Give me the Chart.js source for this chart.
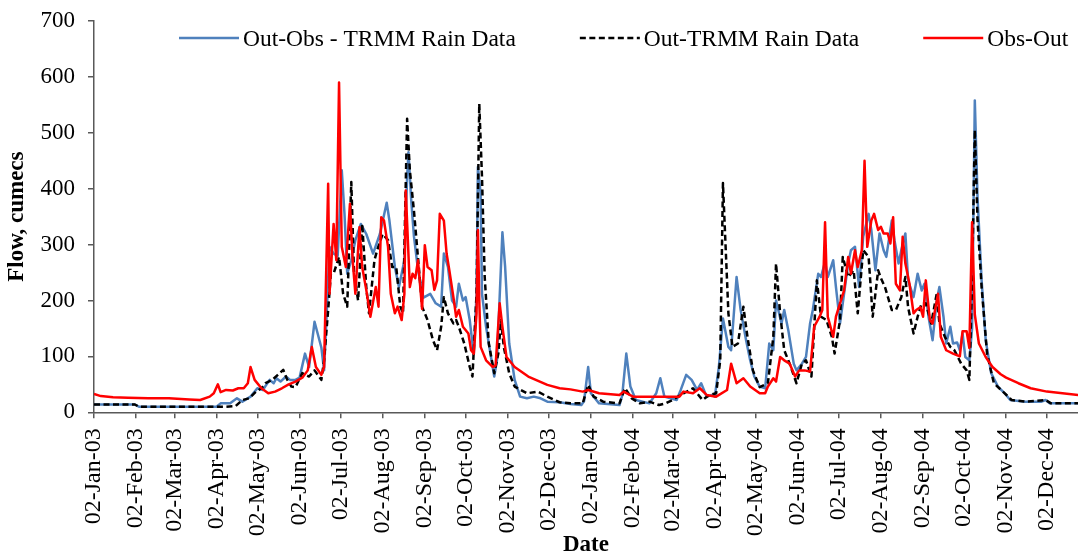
<!DOCTYPE html>
<html>
<head>
<meta charset="utf-8">
<script src="https://cdn.jsdelivr.net/npm/chart.js@4.4.0/dist/chart.umd.min.js"></script>
<style>
html,body{margin:0;padding:0;background:#fff;}
#wrap{width:1078px;height:553px;position:relative;}
</style>
</head>
<body>
<div id="wrap"><canvas id="c" width="1078" height="553"></canvas></div>
<script>
// Day offsets are counted from 02-Jan-2003; flows in cumecs.
const seriesNames = ['Out-Obs - TRMM Rain Data', 'Out-TRMM Rain Data', 'Obs-Out'];

const tickLabels = ['02-Jan-03','02-Feb-03','02-Mar-03','02-Apr-03','02-May-03','02-Jun-03','02-Jul-03','02-Aug-03','02-Sep-03','02-Oct-03','02-Nov-03','02-Dec-03',
  '02-Jan-04','02-Feb-04','02-Mar-04','02-Apr-04','02-May-04','02-Jun-04','02-Jul-04','02-Aug-04','02-Sep-04','02-Oct-04','02-Nov-04','02-Dec-04'];

const yTicks = [0,100,200,300,400,500,600,700];

const blueDays = [0,30,33,90,93,100,105,109,115,120,124,129,132,134,137,141,144,148,151,155,158,162,167,169,171,173,176,179,182,184,186,189,192,196,200,205,210,215,217,221,224,228,230,231,233,235,238,242,247,251,255,257,260,263,266,268,271,273,276,278,279,281,282,284,285,288,292,294,296,300,302,305,309,313,318,323,328,333,342,350,358,360,363,365,371,386,388,391,394,398,408,413,416,419,428,431,435,439,443,446,450,454,456,459,462,466,468,472,475,479,482,485,489,493,496,499,501,505,507,510,514,516,520,523,526,528,532,534,537,539,543,545,548,550,554,556,559,562,565,569,571,574,577,580,582,586,588,591,593,596,598,602,605,608,610,613,616,619,621,624,626,629,631,634,636,638,640,643,645,647,649,652,655,659,664,669,673,684,696,699,702,723];
const blueFlow = [14,14,10,10,16,16,25,19,28,43,40,58,52,61,55,64,58,58,62,105,81,162,116,75,180,296,284,280,433,355,248,272,308,337,319,284,319,375,343,260,224,272,420,465,380,315,255,205,212,195,189,284,260,200,189,230,200,206,165,123,105,212,439,391,212,153,93,64,93,322,260,123,58,28,25,28,25,19,18,15,13,20,81,34,16,13,30,105,46,22,16,34,61,28,22,40,67,58,40,52,28,31,28,81,168,117,111,242,183,129,93,64,46,43,123,111,200,159,183,147,87,75,87,99,159,183,248,242,269,242,272,224,159,195,266,290,296,224,314,355,326,254,320,290,278,343,308,266,290,320,236,206,248,218,230,171,129,200,224,171,123,153,123,125,111,141,99,93,150,558,385,236,129,70,46,34,22,19,19,22,16,16];

const blackDays = [0,30,33,97,104,109,114,119,123,126,131,135,139,142,145,148,150,153,158,162,167,169,172,174,176,180,183,186,189,191,194,197,200,202,206,208,212,216,219,222,225,227,230,232,235,239,241,245,249,252,255,257,260,264,266,268,272,276,278,281,283,285,287,290,294,297,299,301,305,309,318,326,333,342,350,359,363,367,374,386,390,395,401,408,415,420,425,433,440,447,452,457,460,462,466,469,473,477,480,484,489,495,499,501,504,507,511,516,520,523,527,531,534,538,542,544,548,550,554,558,561,565,569,572,576,578,581,586,589,593,596,598,602,605,608,611,615,619,621,625,629,632,637,641,643,645,647,649,652,656,661,669,674,684,699,703,723];
const blackFlow = [14,14,10,10,11,22,25,37,43,52,58,67,76,58,46,45,55,70,64,75,58,93,183,248,248,278,212,189,412,248,200,337,224,177,272,290,319,308,260,260,189,177,525,433,361,248,189,165,129,111,153,206,177,159,165,153,123,81,64,212,552,421,242,123,70,105,165,117,70,46,34,37,28,18,16,16,49,28,19,16,43,25,16,19,13,16,22,34,43,22,31,34,93,410,177,117,123,189,135,75,45,52,135,266,177,111,87,52,87,93,64,236,171,165,135,105,165,278,242,254,177,290,278,171,254,240,224,183,183,206,242,188,141,171,195,195,159,212,159,135,117,111,87,75,58,236,505,343,224,105,52,34,22,19,22,16,16];

const redDays = [0,5,14,25,40,55,70,78,85,88,91,93,97,102,106,110,113,115,118,123,128,133,138,143,148,153,157,160,163,167,169,172,173,176,178,180,182,185,188,190,192,195,197,200,203,207,209,211,213,216,218,221,223,226,228,229,232,234,236,238,241,243,245,248,250,252,254,257,259,261,264,266,268,271,275,277,279,281,282,283,284,288,293,295,298,300,303,309,319,333,342,350,359,363,371,386,389,396,430,433,440,445,450,457,465,468,472,477,482,489,493,495,499,501,504,507,511,515,518,522,526,529,533,535,537,539,543,545,548,551,554,556,559,561,564,566,568,571,573,576,578,580,583,585,587,589,592,594,596,599,602,604,607,609,611,614,616,620,622,626,631,636,638,641,643,645,647,650,655,660,666,670,679,688,700,723];
const redFlow = [33,29,27,26,25,25,23,22,28,34,50,36,40,39,43,43,52,81,58,43,34,37,43,50,55,62,75,117,81,67,81,409,212,337,272,590,296,260,373,272,212,331,260,219,171,224,189,349,343,296,212,177,189,165,212,397,224,248,240,272,185,299,260,254,219,236,355,343,284,254,206,171,183,153,141,111,105,177,326,200,117,93,81,84,195,153,99,81,64,49,43,41,37,40,34,31,37,28,28,37,34,43,31,28,40,87,52,61,46,34,34,46,61,55,99,93,87,64,75,75,73,153,171,183,340,171,135,171,195,218,278,248,290,260,290,450,296,343,355,326,332,320,320,302,349,230,218,314,266,230,177,183,188,171,236,165,159,212,135,111,105,100,145,145,115,340,175,123,99,81,68,62,52,43,37,31];

const MONTHS = {Jan:0,Feb:1,Mar:2,Apr:3,May:4,Jun:5,Jul:6,Aug:7,Sep:8,Oct:9,Nov:10,Dec:11};
const baseDate = Date.UTC(2003, 0, 2);
const tickDays = tickLabels.map(s => {
  const p = s.split('-');
  return (Date.UTC(2000 + Number(p[2]), MONTHS[p[1]], Number(p[0])) - baseDate) / 86400000;
});

function pts(days, vals) { return days.map((d, i) => ({x: d, y: vals[i]})); }

const FONT = '"Liberation Serif", "Times New Roman", serif';
Chart.defaults.font.family = FONT;
Chart.defaults.color = '#000';

const legendPlugin = {
  id: 'customLegend',
  afterDraw(chart) {
    const ctx = chart.ctx;
    ctx.save();
    ctx.font = '23.5px ' + FONT;
    ctx.textBaseline = 'alphabetic';
    let x = 179;
    const y = 38;
    chart.data.datasets.forEach(ds => {
      ctx.beginPath();
      ctx.strokeStyle = ds.borderColor;
      ctx.lineWidth = ds.borderWidth;
      ctx.setLineDash(ds.borderDash || []);
      ctx.moveTo(x, y);
      ctx.lineTo(x + 60, y);
      ctx.stroke();
      ctx.setLineDash([]);
      ctx.fillStyle = '#000';
      ctx.fillText(ds.label, x + 64, y + 7.5);
      x += 64 + ctx.measureText(ds.label).width + 64;
    });
    ctx.restore();
  }
};

const axisColor = '#595959';

new Chart(document.getElementById('c'), {
  type: 'line',
  data: {
    datasets: [
      {label: seriesNames[0], data: pts(blueDays, blueFlow), borderColor: '#4F81BD', borderWidth: 2.5, order: 2},
      {label: seriesNames[1], data: pts(blackDays, blackFlow), borderColor: '#000000', borderWidth: 2.5, borderDash: [6, 3.5], order: 1},
      {label: seriesNames[2], data: pts(redDays, redFlow), borderColor: '#FF0000', borderWidth: 2.5, order: 0}
    ]
  },
  options: {
    responsive: false,
    animation: false,
    parsing: true,
    layout: {padding: {top: 21, right: 0, bottom: 0, left: 0}},
    elements: {
      point: {radius: 0, hoverRadius: 0},
      line: {tension: 0, fill: false, borderJoinStyle: 'round'}
    },
    plugins: {legend: {display: false}, tooltip: {enabled: false}},
    scales: {
      x: {
        type: 'linear',
        min: 0,
        max: 722.8,
        afterBuildTicks: scale => { scale.ticks = tickDays.map(v => ({value: v})); },
        afterFit: scale => { scale.height = 140.7; scale.paddingLeft = 0; scale.paddingRight = 0; },
        ticks: {
          autoSkip: false, minRotation: 90, maxRotation: 90, padding: 10,
          font: {size: 24}, color: '#000',
          callback: (v, i) => tickLabels[i]
        },
        grid: {display: true, drawOnChartArea: false, drawTicks: true, tickLength: 6, color: axisColor, lineWidth: 1.5},
        border: {display: true, color: axisColor, width: 1.5},
        title: {display: true, text: 'Date', color: '#000', font: {size: 23, weight: 'bold', lineHeight: 0.7}, padding: {top: 0, bottom: 0}}
      },
      y: {
        min: 0,
        max: 700,
        afterBuildTicks: scale => { scale.ticks = yTicks.map(v => ({value: v})); },
        afterFit: scale => { scale.width = 94; scale.paddingTop = 0; scale.paddingBottom = 0; },
        ticks: {padding: 13, font: {size: 23}, color: '#000'},
        grid: {display: true, drawOnChartArea: false, drawTicks: true, tickLength: 6, color: axisColor, lineWidth: 1.5},
        border: {display: true, color: axisColor, width: 1.5},
        title: {display: true, text: 'Flow, cumecs', color: '#000', font: {size: 23, weight: 'bold'}, padding: {top: 3, bottom: 0}}
      }
    }
  },
  plugins: [legendPlugin]
});
</script>
</body>
</html>
